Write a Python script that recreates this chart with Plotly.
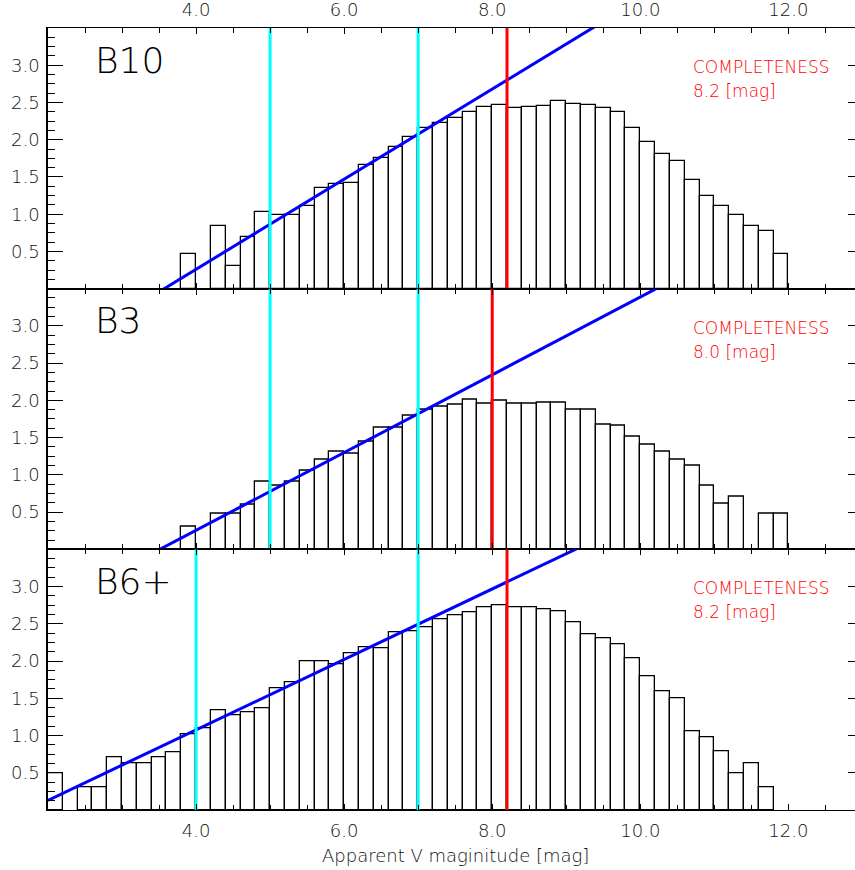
import plotly.graph_objects as go

# ---------------- data ----------------
bin_centers = [round(2.1 + 0.2 * i, 1) for i in range(50)]   # 0.2 mag bins from 2.0 to 12.0

b10 = [0, 0, 0, 0, 0, 0, 0, 0, 0,
       0.47, 0, 0.84, 0.30, 0.70, 1.03, 0.99, 0.99, 1.11, 1.35, 1.41,
       1.42, 1.66, 1.75, 1.90, 2.04, 2.16, 2.23, 2.29, 2.37, 2.44,
       2.46, 2.43, 2.44, 2.45, 2.52, 2.48, 2.47, 2.43, 2.37, 2.16,
       1.97, 1.81, 1.71, 1.46, 1.25, 1.11, 0.99, 0.84, 0.78, 0.47]

b3 = [0, 0, 0, 0, 0, 0, 0, 0, 0,
      0.31, 0, 0.48, 0.48, 0.60, 0.91, 0.85, 0.91, 1.05, 1.21, 1.31,
      1.28, 1.45, 1.64, 1.64, 1.79, 1.87, 1.91, 1.94, 2.01, 1.95,
      1.99, 1.96, 1.96, 1.97, 1.97, 1.88, 1.88, 1.68, 1.66, 1.51,
      1.40, 1.31, 1.21, 1.12, 0.85, 0.61, 0.71, 0, 0.48, 0.48]

b6 = [0.49, 0, 0.31, 0.31, 0.71, 0.62, 0.62, 0.71, 0.78,
      1.01, 1.09, 1.34, 1.27, 1.31, 1.37, 1.63, 1.71, 1.99, 1.99, 1.95,
      2.10, 2.19, 2.17, 2.38, 2.40, 2.45, 2.56, 2.61, 2.65, 2.72,
      2.75, 2.72, 2.72, 2.69, 2.67, 2.52, 2.36, 2.31, 2.23, 2.03,
      1.80, 1.59, 1.50, 1.05, 0.97, 0.79, 0.49, 0.62, 0.31, 0]

panel_names = ["B10", "B3", "B6+"]
panel_values = [b10, b3, b6]
completeness = [8.2, 8.0, 8.2]
cyan_marks = [[5.0, 7.0], [5.0, 7.0], [4.0, 7.0]]
fit_slope = [0.605, 0.522, 0.473]
fit_zero_mag = [3.57, 3.51, 1.725]

x_ticks = [4.0, 6.0, 8.0, 10.0, 12.0]
y_ticks = [0.5, 1.0, 1.5, 2.0, 2.5, 3.0]
x_range = [2.0, 12.9]
y_range = [0.0, 3.5]

# ---------------- geometry ----------------
W, H = 855, 870
ML, MR, MT, MB = 48, 0, 28, 60
PW, PH = W - ML - MR, H - MT - MB

def px(x):
    return (x - ML) / PW

def py(y):
    return (H - MB - y) / PH

FONT = "DejaVu Sans"
BLUE, CYAN, RED = "#0000ff", "#00ffff", "#ff0000"
TXT = "#111111"

fig = go.Figure()
layout = {}

for i in range(3):
    n = i + 1
    xa = "x" if n == 1 else f"x{n}"
    ya = "y" if n == 1 else f"y{n}"
    vals = [v if v > 0 else None for v in panel_values[i]]
    fig.add_trace(go.Bar(x=bin_centers, y=vals, width=0.2, xaxis=xa, yaxis=ya,
                         marker=dict(color="white", line=dict(color="black", width=1.3)),
                         showlegend=False, hoverinfo="skip"))
    # fit line
    s, z = fit_slope[i], fit_zero_mag[i]
    fx = [x_range[0], x_range[1]]
    fy = [s * (v - z) for v in fx]
    fig.add_trace(go.Scatter(x=fx, y=fy, mode="lines", xaxis=xa, yaxis=ya,
                             line=dict(color=BLUE, width=3), showlegend=False, hoverinfo="skip"))
    for c in cyan_marks[i]:
        fig.add_trace(go.Scatter(x=[c, c], y=y_range, mode="lines", xaxis=xa, yaxis=ya,
                                 line=dict(color=CYAN, width=3), showlegend=False, hoverinfo="skip"))
    fig.add_trace(go.Scatter(x=[completeness[i]] * 2, y=y_range, mode="lines", xaxis=xa, yaxis=ya,
                             line=dict(color=RED, width=3), showlegend=False, hoverinfo="skip"))
    # dummy trace for right-hand tick axis
    ra = f"y{n + 3}"
    fig.add_trace(go.Scatter(x=[None], y=[None], xaxis=xa, yaxis=ra, showlegend=False, hoverinfo="skip"))

    top = 1 - i / 3
    bot = 1 - (i + 1) / 3
    xkey = "xaxis" if n == 1 else f"xaxis{n}"
    ykey = "yaxis" if n == 1 else f"yaxis{n}"
    layout[xkey] = dict(
        domain=[0, 1], anchor=ya, range=x_range,
        tickmode="array", tickvals=x_ticks, ticktext=[f"{t:.1f}" for t in x_ticks],
        ticks="inside", ticklen=6, tickwidth=1.2, tickcolor="black",
        minor=dict(tickmode="linear", tick0=0, dtick=0.5, ticks="inside", ticklen=5,
                   tickwidth=1.2, tickcolor="black"),
        showline=True, linecolor="black", linewidth=1.1, mirror="ticks",
        showgrid=False, zeroline=False,
        showticklabels=(n != 2), side="top" if n == 1 else "bottom",
        tickfont=dict(family=FONT, size=18, color=TXT, weight=200),
        ticklabelstandoff=4,
    )
    layout[ykey] = dict(
        domain=[bot, top], anchor=xa, range=y_range,
        tickmode="array", tickvals=y_ticks, ticktext=[f"{t:.1f}" for t in y_ticks],
        ticks="inside", ticklen=15, tickwidth=1.2, tickcolor="black",
        minor=dict(tickmode="linear", tick0=0, dtick=0.125, ticks="inside", ticklen=7,
                   tickwidth=1.2, tickcolor="black"),
        showline=True, linecolor="black", linewidth=1.5, mirror=False,
        showgrid=False, zeroline=False,
        tickfont=dict(family=FONT, size=18, color=TXT, weight=200),
        ticklabelstandoff=3,
    )
    layout[f"yaxis{n + 3}"] = dict(
        overlaying=ya, side="right", anchor=xa, range=y_range,
        tickmode="array", tickvals=y_ticks, ticks="inside", ticklen=7, tickwidth=1.2,
        tickcolor="black", showticklabels=False, showline=False, showgrid=False, zeroline=False,
    )

annotations = []
label_centers = [60, 320.5, 581.5]
panel_tops = [28, 288.7, 549.3]
for i in range(3):
    annotations.append(dict(x=px(93), y=py(label_centers[i]), xref="paper", yref="paper",
                            text=panel_names[i], showarrow=False, xanchor="left", yanchor="middle",
                            font=dict(family=FONT, size=36, color="black", weight=200)))
    annotations.append(dict(x=px(691), y=py(panel_tops[i] + 39), xref="paper", yref="paper",
                            text="COMPLETENESS", showarrow=False, xanchor="left", yanchor="middle",
                            font=dict(family=FONT, size=17, color=RED, weight=200)))
    annotations.append(dict(x=px(691), y=py(panel_tops[i] + 63), xref="paper", yref="paper",
                            text=f"{completeness[i]:.1f} [mag]", showarrow=False, xanchor="left",
                            yanchor="middle",
                            font=dict(family=FONT, size=17, color=RED, weight=200)))
annotations.append(dict(x=px(455), y=py(855), xref="paper", yref="paper",
                        text="Apparent V maginitude [mag]", showarrow=False,
                        xanchor="center", yanchor="middle",
                        font=dict(family=FONT, size=18, color=TXT, weight=200)))

fig.update_layout(
    width=W, height=H, margin=dict(l=ML, r=MR, t=MT, b=MB, pad=0),
    paper_bgcolor="white", plot_bgcolor="white",
    barmode="overlay", bargap=0, showlegend=False,
    annotations=annotations, **layout,
)

fig.write_html("out.html")
